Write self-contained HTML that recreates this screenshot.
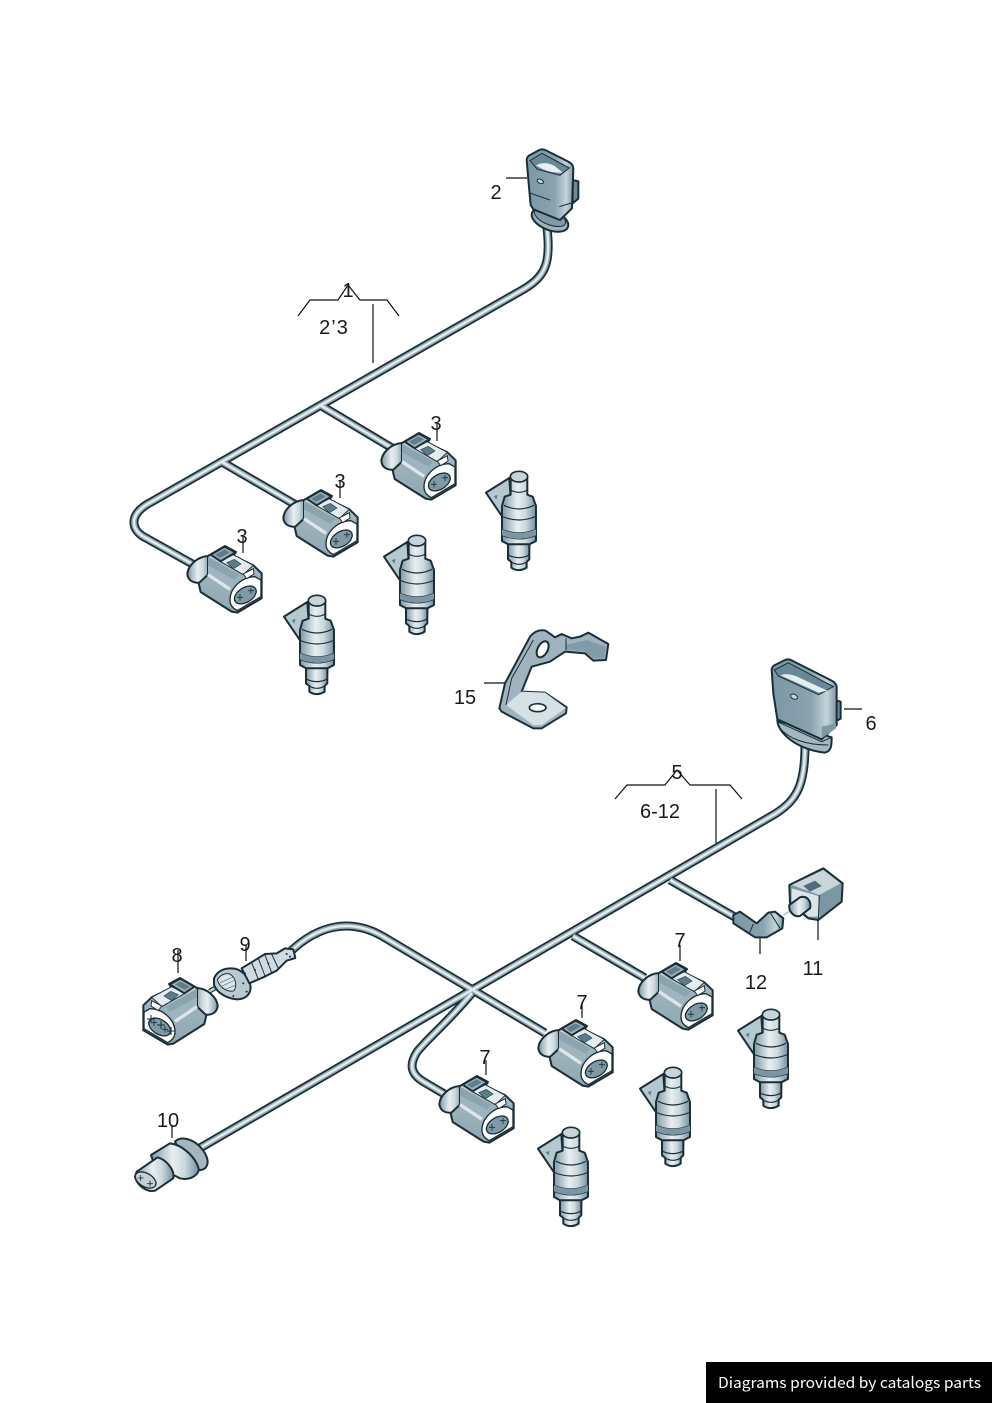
<!DOCTYPE html>
<html><head><meta charset="utf-8"><style>
html,body{margin:0;padding:0;background:#fff}
svg{display:block}
text{font-family:"Liberation Sans","Noto Sans CJK JP",sans-serif;font-size:20px;fill:#1a1a1a;text-anchor:middle}
.o{stroke:#1b2e37;stroke-width:6;stroke-linejoin:round}
.l{stroke:#111;stroke-width:1.2;fill:none}
</style></head><body>
<svg width="992" height="1403" viewBox="0 0 992 1403" xmlns="http://www.w3.org/2000/svg">
<defs>
<linearGradient id="h" x1="0" x2="1" y1="0" y2="0"><stop offset="0" stop-color="#7f99a6"/><stop offset=".45" stop-color="#e8eff1"/><stop offset=".7" stop-color="#cbd8dd"/><stop offset="1" stop-color="#7390a0"/></linearGradient>
<linearGradient id="b" x1="0" x2="0" y1="0" y2="1"><stop offset="0" stop-color="#d5e0e5"/><stop offset=".45" stop-color="#9db2bc"/><stop offset="1" stop-color="#8fa8b3"/></linearGradient>
<linearGradient id="g" x1="0" x2="1" y1="0" y2="0"><stop offset="0" stop-color="#7b98a5"/><stop offset=".6" stop-color="#89a3af"/><stop offset=".85" stop-color="#c4d3d9"/><stop offset="1" stop-color="#7b97a4"/></linearGradient>

<g id="c" transform="translate(180 420) scale(.3333)">
<path class="o" fill="url(#h)" d="M84,408C52,410 24,436 22,462C24,482 40,490 60,488L90,470Z"/>
<path class="o" fill="url(#b)" d="M84,408L135,378L168,396L160,408L220,436L245,460L245,535L172,578L155,575L62,516L56,490L84,464Z"/>
<path fill="#9fb4be" d="M84,410L178,464L150,512L84,466Z"/>
<path fill="#7f99a5" d="M84,410L178,464L165,480L84,436Z" opacity=".6"/>
<path d="M84,464L150,508" stroke="#dde6ea" stroke-width="10" fill="none"/>
<path fill="#e4ecef" stroke="#1b2e37" stroke-width="3" stroke-linejoin="round" d="M120,424L160,404L220,436L190,464Z"/>
<path class="o" fill="#9bb0ba" d="M92,404L134,380L166,397L122,424Z"/>
<path fill="#5f7d8a" d="M105,404L134,388L150,397L120,414Z"/>
<path fill="#5d7b89" stroke="#2b424d" stroke-width="2" d="M140,428L163,418L183,432L160,446Z"/>
<path fill="#fff" stroke="#1b2e37" stroke-width="4" d="M150,540C150,505 185,470 225,470L243,480L243,530L172,572C158,565 150,555 150,540Z"/>
<ellipse cx="196" cy="525" rx="36" ry="22" transform="rotate(-32 196 525)" fill="#7e9aa7" stroke="#1b2e37" stroke-width="4"/>
<path d="M180,522v20M171,532h18M213,504v18M204,512h18" stroke="#1b2e37" stroke-width="2.5" fill="none"/>
<path fill="#fff" stroke="#1b2e37" stroke-width="3" d="M190,462L220,446L222,462L200,476Z"/>
</g>

<g id="j" transform="translate(180 420) scale(.3333)">
<path class="o" fill="#b5c7cf" d="M312,590L382,546L386,606L358,658Z"/>
<path fill="#5f7d8a" d="M335,600l12,-3l-4,14z"/>
<path class="o" fill="url(#h)" d="M378,760L378,745L360,735L360,630L368,602L386,596L386,545L436,545L436,596L452,602L462,630L462,735L442,745L442,760Z"/>
<path class="o" fill="url(#h)" d="M378,745L442,745L442,790L434,798L434,815Q410,830 388,815L388,798L378,790Z"/>
<ellipse cx="411" cy="542" rx="26" ry="16" fill="#c7d5da" stroke="#1b2e37" stroke-width="5"/>
<path d="M386,582Q411,596 436,582M366,628Q411,650 456,628M362,662Q411,682 460,662M360,700Q411,722 462,700M360,718Q411,740 462,718M380,778Q411,792 440,778M388,798Q411,812 434,798" stroke="#1b2e37" stroke-width="3.5" fill="none"/>
<path d="M360,700Q411,722 462,700L462,718Q411,740 360,718Z" fill="#7b95a2"/>
</g>
</defs>

<!-- upper wires -->
<g fill="none" stroke-linejoin="round">
<g stroke="#1b2e37" stroke-width="9">
<path d="M547,228C551,262 546,276 524,289L146,505C128,517 132,531 146,538L196,566"/>
<path d="M320,405L392,448M222,462L296,505"/>
</g>
<g stroke="#93a9b3" stroke-width="5.5">
<path d="M547,228C551,262 546,276 524,289L146,505C128,517 132,531 146,538L196,566"/>
<path d="M320,405L392,448M222,462L296,505"/>
</g>
<g stroke="#e3ebee" stroke-width="2.5">
<path d="M547,228C551,262 546,276 524,289L146,505C128,517 132,531 146,538L196,566"/>
<path d="M320,405L392,448M222,462L296,505"/>
</g>
</g>

<!-- lower wires -->
<g fill="none" stroke-linejoin="round">
<g stroke="#1b2e37" stroke-width="9">
<path d="M290,952C318,925 350,918 382,936L545,1033"/>
<path d="M805,745C805,785 797,800 775,814L200,1148"/>
<path d="M472,993C445,1025 428,1038 417,1052C408,1066 412,1075 424,1082L446,1095"/>
<path d="M670,880L740,920M573,936L645,978"/>
</g>
<g stroke="#93a9b3" stroke-width="5.5">
<path d="M290,952C318,925 350,918 382,936L545,1033"/>
<path d="M805,745C805,785 797,800 775,814L200,1148"/>
<path d="M472,993C445,1025 428,1038 417,1052C408,1066 412,1075 424,1082L446,1095"/>
<path d="M670,880L740,920M573,936L645,978"/>
</g>
<g stroke="#e3ebee" stroke-width="2.5">
<path d="M290,952C318,925 350,918 382,936L545,1033"/>
<path d="M805,745C805,785 797,800 775,814L200,1148"/>
<path d="M472,993C445,1025 428,1038 417,1052C408,1066 412,1075 424,1082L446,1095"/>
<path d="M670,880L740,920M573,936L645,978"/>
</g>
</g>

<!-- connectors -->
<use href="#c"/>
<use href="#c" transform="translate(96 -56)"/>
<use href="#c" transform="translate(194 -113)"/>
<use href="#c" transform="translate(451 417)"/>
<use href="#c" transform="translate(351 474)"/>
<use href="#c" transform="translate(252 530)"/>

<!-- injectors -->
<use href="#j"/>
<use href="#j" transform="translate(100 -60)"/>
<use href="#j" transform="translate(202 -124)"/>
<use href="#j" transform="translate(454 414)"/>
<use href="#j" transform="translate(356 472)"/>
<use href="#j" transform="translate(254 532)"/>

<!-- connector 2 -->
<g transform="translate(480 140) scale(.3333)">
<ellipse cx="210" cy="240" rx="58" ry="30" transform="rotate(22 210 240)" fill="#9db2bc" stroke="#1b2e37" stroke-width="6"/>
<ellipse cx="210" cy="232" rx="50" ry="22" transform="rotate(22 210 232)" fill="#7f99a6" stroke="#1b2e37" stroke-width="3"/>
<path class="o" fill="#6f8b98" d="M278,120L295,124L295,176L278,190Z"/>
<path class="o" fill="url(#g)" d="M140,60Q140,50 150,45L178,30Q188,26 198,31L265,65Q280,72 280,86L276,205L240,240L160,208L152,195L146,130Z"/>
<path fill="#6a8795" stroke="#1b2e37" stroke-width="3" d="M150,62L186,40L268,84L240,106L172,88Z"/>
<path fill="#e9f0f2" d="M168,76Q195,62 224,78L248,98Q205,100 168,76Z"/>
<ellipse cx="181" cy="124" rx="10" ry="6" transform="rotate(25 181 124)" fill="#c8d5da" stroke="#1b2e37" stroke-width="3"/>
<path d="M152,160L210,180M238,200L278,188" stroke="#1b2e37" stroke-width="3" fill="none"/>
</g>

<!-- connector 6 -->
<g transform="translate(720 650) scale(.3333)">
<path class="o" fill="#a3b7c1" d="M172,212C175,250 230,298 315,308C335,303 335,285 335,262Z"/>
<path d="M180,235C205,265 255,285 325,285" stroke="#1b2e37" stroke-width="3" fill="none"/>
<path class="o" fill="#6f8b98" d="M345,150L362,155L362,206L345,215Z"/>
<path class="o" fill="url(#g)" d="M155,60Q155,50 165,45L195,30Q205,26 215,31L335,92Q350,100 350,112L350,225L305,268L172,208L160,130Z"/>
<path fill="#6a8795" stroke="#1b2e37" stroke-width="3" d="M163,60L205,38L340,110L296,134L175,78Z"/>
<path fill="#e6edf0" d="M182,76Q205,66 240,84L322,122L296,128Z"/>
<ellipse cx="222" cy="140" rx="11" ry="7" transform="rotate(25 222 140)" fill="#c8d5da" stroke="#1b2e37" stroke-width="3"/>
<path d="M172,215L305,275L335,262" stroke="#1b2e37" stroke-width="3" fill="none"/>
<path fill="#7f99a6" d="M305,230L348,220L348,235L305,265Z"/>
</g>

<!-- bracket 15 -->
<g transform="translate(480 620) scale(.3333)">
<path class="o" fill="#9fb4be" d="M58,265L75,190L150,50Q170,26 197,32L225,52L245,42L275,55L300,50L325,38L385,72L378,120L340,122L315,100L255,95L210,125L155,140L125,215L195,218L260,262L258,280L185,325L160,325L65,275Z"/>
<path fill="#d6e1e5" d="M78,255L125,215L195,218L258,264L185,315L160,315Z"/>
<path fill="#6a8795" d="M258,75L320,60L378,80L372,115L340,115L315,95L258,88Z" opacity=".55"/>
<path d="M78,255L95,175L160,60M258,55L258,90" stroke="#1b2e37" stroke-width="3" fill="none"/>
<ellipse cx="188" cy="88" rx="15" ry="26" transform="rotate(28 188 88)" fill="#fff" stroke="#1b2e37" stroke-width="6"/>
<ellipse cx="173" cy="263" rx="25" ry="12" fill="#fff" stroke="#1b2e37" stroke-width="5"/>
</g>

<!-- connector 8 -->
<g transform="translate(405 432) scale(-1 1)"><use href="#c"/></g>
<path d="M151,1023v-8M147,1019h8M161,1029v-8M157,1025h8M171,1035v-8M167,1031h8" stroke="#1b2e37" stroke-width="1" fill="none"/>

<!-- bellows 9 -->
<g transform="translate(130 930) scale(.3333)">
<path d="M238,184L280,160" stroke="#1b2e37" stroke-width="14"/>
<path d="M238,184L280,160" stroke="#c8d5da" stroke-width="7"/>
<path class="o" fill="#b9c9d0" d="M252,145C262,122 285,112 315,116C340,122 358,145 362,170C362,195 345,208 320,208C290,205 262,190 252,165Z"/>
<path fill="#dbe5e9" stroke="#1b2e37" stroke-width="3" d="M262,150C270,135 285,128 300,132C318,145 322,165 312,182C295,188 270,175 262,150Z"/>
<path d="M270,158L312,140M272,170L316,150M282,180L318,165" stroke="#55707d" stroke-width="2"/>
<path class="o" fill="#cfdbe0" d="M335,115L405,72L440,70L465,55L490,58L496,84L470,92L440,122L400,142L358,160Z"/>
<path d="M365,98L385,148M385,85L405,138M405,75L425,128M425,72L445,115" stroke="#1b2e37" stroke-width="3" fill="none"/>
<g fill="#1b2e37"><circle cx="345" cy="130" r="3"/><circle cx="340" cy="160" r="3"/><circle cx="350" cy="185" r="3"/><circle cx="470" cy="72" r="3"/><circle cx="480" cy="80" r="3"/><circle cx="455" cy="62" r="3"/><circle cx="310" cy="198" r="3"/><circle cx="375" cy="120" r="3"/><circle cx="415" cy="100" r="3"/></g>
</g>

<!-- sensor 10 -->
<g transform="translate(125 1120) scale(.3333)">
<path class="o" fill="#a3b7c1" d="M150,65C165,48 200,55 225,80C248,105 255,130 240,145C225,155 205,150 190,140Z"/>
<path class="o" fill="url(#h)" d="M78,105L135,70C175,75 215,115 222,150C215,170 190,182 165,175L145,165L105,180Z"/>
<path class="o" fill="url(#h)" d="M35,155L98,112C125,120 150,150 145,175L90,212C65,218 35,195 30,170Z"/>
<ellipse cx="62" cy="180" rx="34" ry="20" transform="rotate(30 62 180)" fill="#c3d1d7" stroke="#1b2e37" stroke-width="4"/>
<path d="M47,165v18M38,174h18M75,182v18M66,191h18" stroke="#1b2e37" stroke-width="2.5" fill="none"/>
</g>

<!-- connector 11 and elbow 12 -->
<g transform="translate(720 860) scale(.3333)">
<path d="M190,165L215,150" stroke="#b7c8cf" stroke-width="5"/>
<path class="o" fill="#7b97a4" d="M208,75L310,25L368,70L365,125L295,180L265,175L210,130Z"/>
<path fill="#c8d5da" d="M215,75L310,30L362,70L298,105Z"/>
<path fill="#4f6c7a" d="M250,78L285,62L305,78L270,95Z"/>
<path fill="#dbe5e9" d="M215,85L295,108L298,170L265,170L215,125Z"/>
<path d="M298,105L295,178" stroke="#1b2e37" stroke-width="3"/>
<path class="o" fill="url(#h)" d="M208,135L240,112C262,105 275,125 270,145L240,168C222,172 205,155 208,135Z"/>
<path class="o" fill="url(#g)" d="M40,165L60,155L110,190L145,158L165,155L190,175L187,205L140,232L105,232L40,190Z"/>
<path d="M100,192L88,220M152,160L180,205" stroke="#1b2e37" stroke-width="3" fill="none"/>
</g>

<!-- leaders -->
<g class="l">
<path d="M298,316L310,300L338,300L348,285L360,300L387,300L399,316M373,304V363"/>
<path d="M615,799L627,785L665,785L677,770L690,785L730,785L742,799M716,789V843"/>
<path d="M506,178H527M437,422V441M340,480V498M243,535V553M484,683H505M844,709H862"/>
<path d="M680,945V961M582,1003V1018M486,1060V1075M178,950V973M246,945V961M172,1125V1138M818,920V940M760,938V954"/>
</g>

<!-- labels -->
<text x="496" y="199">2</text>
<text x="348" y="297">1</text>
<text x="334" y="334" letter-spacing="1">2’3</text>
<text x="436" y="430">3</text>
<text x="340" y="488">3</text>
<text x="242" y="543">3</text>
<text x="465" y="704">15</text>
<text x="871" y="730">6</text>
<text x="677" y="779">5</text>
<text x="660" y="818">6-12</text>
<text x="680" y="947">7</text>
<text x="582" y="1009">7</text>
<text x="485" y="1064">7</text>
<text x="177" y="962">8</text>
<text x="245" y="951">9</text>
<text x="168" y="1127">10</text>
<text x="813" y="975">11</text>
<text x="756" y="989">12</text>

<rect x="706" y="1362" width="286" height="41" fill="#000"/>
<text x="718" y="1388" style="font-family:'Noto Sans CJK JP',sans-serif;font-size:15px;fill:#fff;text-anchor:start" textLength="263" lengthAdjust="spacingAndGlyphs">Diagrams provided by catalogs parts</text>
</svg>
</body></html>
